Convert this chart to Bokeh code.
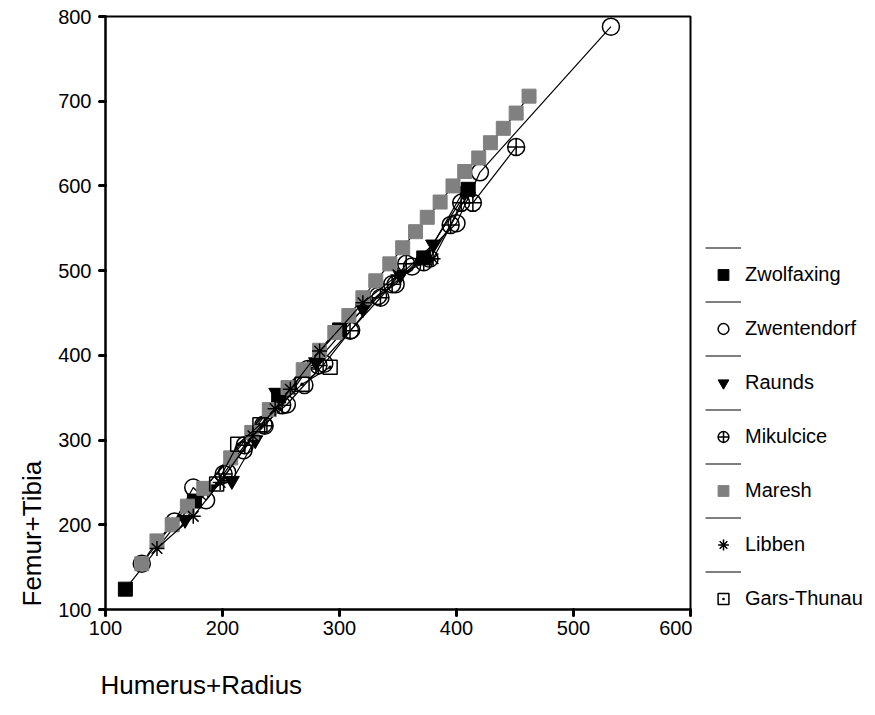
from bokeh.plotting import figure
from bokeh.models import Range1d, FixedTicker, Legend, LegendItem, Title, ColumnDataSource, Label
from bokeh.layouts import row
from bokeh.embed import file_html
from bokeh.resources import INLINE

# ---- data (Humerus+Radius, Femur+Tibia) ----
zwolf_x = [117, 176, 248, 300, 372, 410]
zwolf_y = [124, 228, 352, 430, 515, 596]

zwent_x = [131, 159, 175, 186, 204, 218, 235, 255, 270, 287, 310, 333, 348, 362, 400, 420, 532]
zwent_y = [154, 204, 244, 229, 262, 288, 318, 342, 365, 390, 430, 470, 484, 505, 556, 616, 788]

raunds_x = [168, 188, 208, 228, 246, 280, 320, 352, 380, 406]
raunds_y = [206, 242, 252, 300, 356, 392, 455, 495, 531, 594]

mikul_x = [201, 219, 236, 251, 273, 282, 309, 335, 345, 357, 372, 377, 395, 404, 414, 451]
mikul_y = [260, 294, 317, 341, 384, 388, 429, 468, 484, 508, 510, 514, 554, 580, 580, 646]

maresh_x = [131, 144, 157, 170, 184, 207, 225, 240, 256, 269, 283, 296, 308, 320, 331, 343,
            354, 365, 375, 386, 397, 407, 419, 429, 440, 451, 462]
maresh_y = [154, 181, 200, 222, 243, 279, 309, 336, 362, 383, 406, 427, 447, 468, 488, 508,
            527, 546, 563, 581, 600, 617, 633, 651, 668, 686, 706]

libben_x = [144, 175, 198, 226, 245, 258, 283, 320, 350, 380, 410]
libben_y = [172, 210, 250, 305, 337, 360, 405, 462, 495, 514, 592]

gars_x = [195, 213, 232, 268, 292]
gars_y = [248, 295, 318, 366, 386]

x_ticks = [100, 200, 300, 400, 500, 600]
y_ticks = [100, 200, 300, 400, 500, 600, 700, 800]

FONT = "Liberation Sans"


def blank_panel(width):
    f = figure(width=width, height=715, output_backend="svg", toolbar_location=None,
               x_range=Range1d(-2, -1), y_range=Range1d(-2, -1),
               min_border_left=0, min_border_right=0, min_border_top=0, min_border_bottom=0)
    f.axis.visible = False
    f.xgrid.visible = False
    f.ygrid.visible = False
    f.outline_line_color = None
    f.background_fill_color = "white"
    f.border_fill_color = "white"
    return f


p = figure(width=646, height=715, output_backend="svg", toolbar_location=None,
           x_range=Range1d(100, 600), y_range=Range1d(100, 800),
           min_border_left=59, min_border_right=2, min_border_top=16, min_border_bottom=106)
p.xgrid.visible = False
p.ygrid.visible = False
p.outline_line_color = "black"
p.outline_line_width = 2
p.background_fill_color = "white"
p.border_fill_color = "white"

for ax, ticks in ((p.xaxis[0], x_ticks), (p.yaxis[0], y_ticks)):
    ax.ticker = FixedTicker(ticks=ticks)
    ax.axis_line_width = 2
    ax.axis_line_color = "black"
    ax.major_tick_out = 6
    ax.major_tick_in = 0
    ax.major_tick_line_width = 3
    ax.major_tick_line_cap = "round"
    ax.minor_tick_out = 0
    ax.minor_tick_in = 0
    ax.major_label_text_font = FONT
    ax.major_label_text_font_size = "20px"
    ax.major_label_text_color = "black"
p.xaxis[0].major_label_standoff = 5
p.yaxis[0].major_label_standoff = 8

# x-axis title, start-aligned under the axis
p.add_layout(Title(text=" ", text_font_size="10px", standoff=17), "below")
p.add_layout(Title(text="Humerus+Radius", align="left", offset=-5, text_font=FONT,
                   text_font_size="26px", text_font_style="normal", text_color="black",
                   standoff=0), "below")

# y-axis title panel (left), start-aligned at the bottom of the axis
yl = blank_panel(46)
yl.add_layout(Label(x=31, y=3, x_units="screen", y_units="screen", text="Femur+Tibia",
                    angle=90, angle_units="deg", text_align="left", text_baseline="alphabetic",
                    text_font=FONT, text_font_size="26px", text_color="black"))

series = [
    ("Zwolfaxing", zwolf_x, zwolf_y, dict(marker="square", size=14, fill_color="black", line_color="black")),
    ("Zwentendorf", zwent_x, zwent_y, dict(marker="circle", size=17, fill_color="white", fill_alpha=0, line_color="black", line_width=1.5)),
    ("Raunds", raunds_x, raunds_y, dict(marker="inverted_triangle", size=15, fill_color="black", line_color="black")),
    ("Mikulcice", mikul_x, mikul_y, dict(marker="circle_cross", size=17, fill_color="white", fill_alpha=0, line_color="black", line_width=1.5)),
    ("Maresh", maresh_x, maresh_y, dict(marker="square", size=14, fill_color="#808080", line_color="#808080")),
    ("Libben", libben_x, libben_y, dict(marker="asterisk", size=15, line_color="black", line_width=1.5)),
    ("Gars-Thunau", gars_x, gars_y, dict(marker="square_dot", size=14, fill_color="white", fill_alpha=0, line_color="black", line_width=1.5)),
]

# legend panel: a second, axis-less figure whose own (out-of-view) renderers feed the legend
lg = blank_panel(183)

items = []
for name, xs, ys, style in series:
    src = ColumnDataSource(dict(x=xs, y=ys))
    p.line("x", "y", source=src, line_color="black", line_width=1.2)
    p.scatter("x", "y", source=src, **style)
    lr = lg.line("x", "y", source=src, line_color="black", line_width=1.2)
    sr = lg.scatter("x", "y", source=src, **style)
    items.append(LegendItem(label=" ", renderers=[lr]))
    items.append(LegendItem(label=name, renderers=[sr]))

legend = Legend(items=items, location=(13, -3), orientation="vertical",
                glyph_width=36, glyph_height=27, label_height=27, label_standoff=4,
                spacing=0, padding=5, margin=0, border_line_color=None,
                background_fill_alpha=0,
                label_text_font=FONT, label_text_font_size="20px", label_text_color="black")
lg.add_layout(legend, "center")

layout = row(yl, p, lg, spacing=0)
open("out.html", "w").write(file_html(layout, INLINE))
